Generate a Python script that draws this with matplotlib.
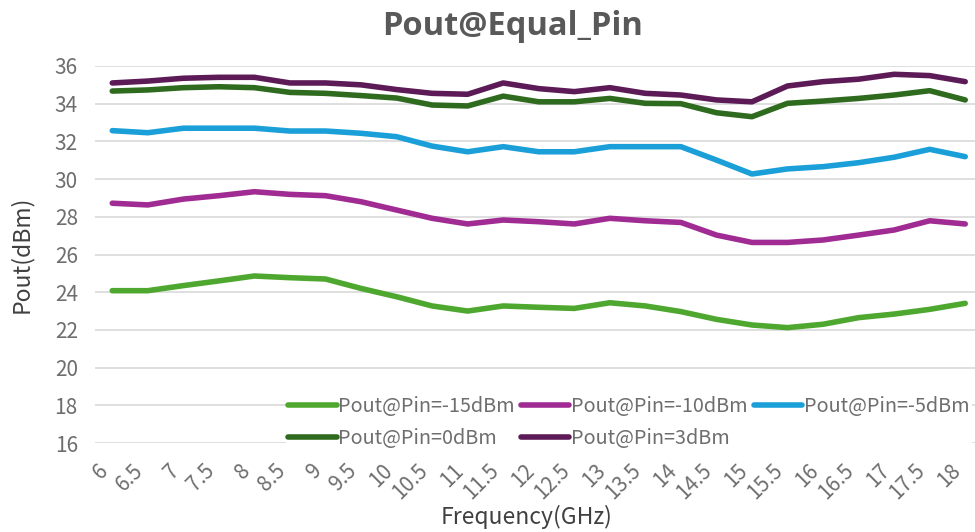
import matplotlib.pyplot as plt

freq = ['6', '6.5', '7', '7.5', '8', '8.5', '9', '9.5', '10', '10.5', '11', '11.5', '12',
        '12.5', '13', '13.5', '14', '14.5', '15', '15.5', '16', '16.5', '17', '17.5', '18']

pin_m15 = [24.08, 24.08, 24.35, 24.6, 24.86, 24.77, 24.7, 24.2, 23.76, 23.27, 23.0, 23.27, 23.2,
           23.14, 23.44, 23.27, 22.97, 22.56, 22.26, 22.12, 22.3, 22.65, 22.84, 23.09, 23.41]
pin_m10 = [28.72, 28.63, 28.94, 29.12, 29.33, 29.19, 29.12, 28.8, 28.36, 27.92, 27.62, 27.83, 27.74,
           27.62, 27.92, 27.79, 27.7, 27.03, 26.64, 26.64, 26.77, 27.03, 27.3, 27.79, 27.62]
pin_m5 = [32.57, 32.46, 32.7, 32.7, 32.7, 32.55, 32.55, 32.43, 32.25, 31.75, 31.45, 31.72, 31.45,
          31.45, 31.72, 31.72, 31.72, 31.01, 30.27, 30.54, 30.66, 30.87, 31.16, 31.58, 31.19]
pin_0 = [34.67, 34.73, 34.85, 34.9, 34.85, 34.6, 34.55, 34.43, 34.3, 33.93, 33.88, 34.4, 34.1,
         34.1, 34.28, 34.02, 34.0, 33.52, 33.31, 34.02, 34.14, 34.28, 34.46, 34.69, 34.2]
pin_3 = [35.1, 35.2, 35.35, 35.4, 35.4, 35.1, 35.1, 35.0, 34.75, 34.55, 34.5, 35.1, 34.8,
         34.64, 34.85, 34.55, 34.46, 34.2, 34.1, 34.94, 35.17, 35.3, 35.56, 35.49, 35.17]

series = [
    ('Pout@Pin=-15dBm', pin_m15, '#4EA72E'),
    ('Pout@Pin=-10dBm', pin_m10, '#A02B93'),
    ('Pout@Pin=-5dBm', pin_m5, '#1A9FD8'),
    ('Pout@Pin=0dBm', pin_0, '#2F6B1F'),
    ('Pout@Pin=3dBm', pin_3, '#5C1A57'),
]

plt.rcParams['font.family'] = ['Noto Sans CJK SC', 'DejaVu Sans']

fig = plt.figure(figsize=(9.75, 5.32), dpi=100)
# plot area runs a little past the right edge, as in the cropped original
ax = fig.add_axes([94.5 / 975, 1 - 443 / 532, (983 - 94.5) / 975, 377 / 532])

x = list(range(len(freq)))
lines = []
for name, vals, col in series:
    ln, = ax.plot(x, vals, color=col, lw=4, label=name, solid_capstyle='round')
    lines.append(ln)

ax.set_xlim(-0.5, len(freq) - 0.5)
ax.set_ylim(16, 36)
ax.set_yticks(range(16, 37, 2))
ax.set_xticks(x)
ax.set_xticklabels(freq, rotation=45, ha='right', va='top')
ax.grid(axis='y', color='#d9d9d9', lw=1.2)
ax.set_axisbelow(True)
for s in ax.spines.values():
    s.set_visible(False)
ax.tick_params(length=0, labelsize=15, labelcolor='#6e6e6e')
ax.tick_params(axis='y', pad=12)
ax.tick_params(axis='x', pad=12)

ax.set_ylabel('Pout(dBm)', fontsize=16.5, color='#404040')
ax.yaxis.set_label_coords(-(94.5 - 33) / (983 - 94.5), 0.5)
ax.set_xlabel('Frequency(GHz)', fontsize=16.5, color='#404040')
ax.xaxis.set_label_coords((527 - 94.5) / (983 - 94.5), -0.165)

fig.text(513 / 975, 1 - 35 / 532, 'Pout@Equal_Pin', ha='center', va='baseline',
         fontsize=23.5, fontweight='bold', color='#595959', family='Open Sans')

# row-wise order like Excel: -15, -10, -5 / 0, 3
order = [0, 3, 1, 4, 2]
leg = ax.legend([lines[i] for i in order], [series[i][0] for i in order],
                loc='upper left', bbox_to_anchor=(286 / 975, 1 - 394 / 532),
                bbox_transform=fig.transFigure, ncol=3, frameon=True, fontsize=14.3,
                handlelength=2.45, handletextpad=0.08, columnspacing=0.3,
                borderpad=0.1, labelspacing=0.55, borderaxespad=0)
leg.get_frame().set_facecolor('white')
leg.get_frame().set_edgecolor('none')
leg.get_frame().set_alpha(1)
for t in leg.get_texts():
    t.set_color('#6e6e6e')

fig.savefig('out.png', dpi=100)
